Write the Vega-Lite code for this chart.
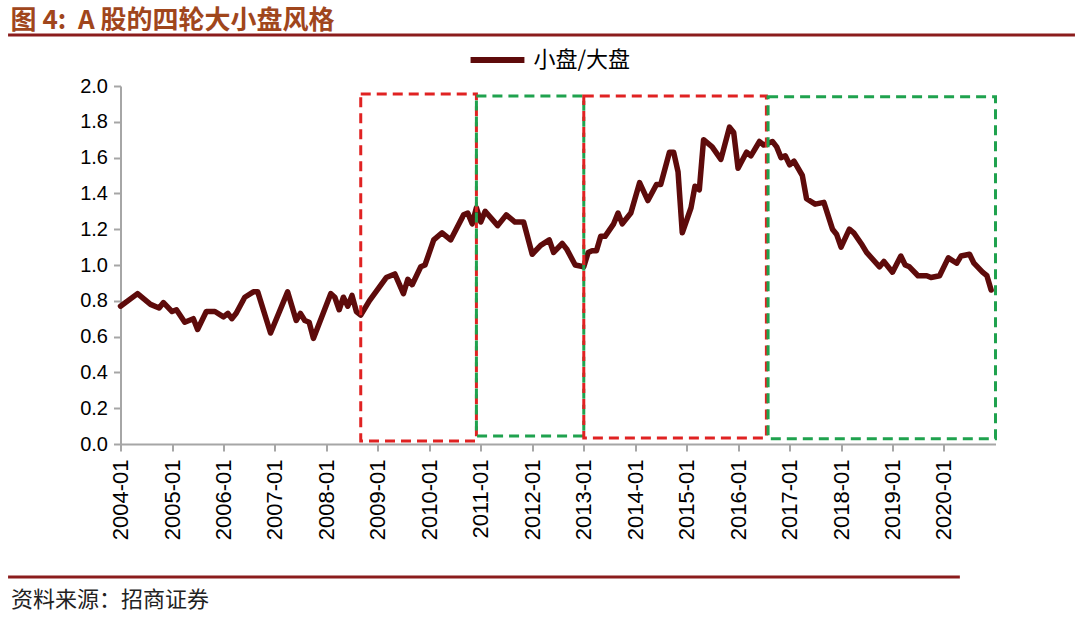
{
  "$schema": "https://vega.github.io/schema/vega-lite/v6.json",
  "width": 875,
  "height": 358,
  "autosize": "none",
  "padding": {"left": 120.5, "top": 86, "right": 84.5, "bottom": 174},
  "background": "white",
  "config": {
    "view": {"stroke": null},
    "font": "Liberation Sans",
    "axis": {
      "grid": false,
      "domainColor": "#A6A6A6",
      "domainWidth": 2,
      "tickColor": "#A6A6A6",
      "tickWidth": 2,
      "tickSize": 7,
      "labelColor": "#000000",
      "labelFont": "Liberation Sans",
      "labelFontSize": 20,
      "labelOverlap": false
    }
  },
  "title": {
    "text": "图 4:\u00a0\u00a0A 股的四轮大小盘风格",
    "anchor": "start",
    "frame": "group",
    "orient": "top",
    "dx": -110,
    "dy": 40,
    "offset": 10,
    "baseline": "bottom",
    "font": "Noto Sans CJK SC",
    "fontSize": 26,
    "fontWeight": "bold",
    "color": "#A0461C"
  },
  "datasets": {
    "series": [
      {"d": "2004-01", "v": 0.77}, {"d": "2004-05", "v": 0.84}, {"d": "2004-08", "v": 0.78}, {"d": "2004-10", "v": 0.76},
      {"d": "2004-11", "v": 0.79}, {"d": "2005-01", "v": 0.74}, {"d": "2005-02", "v": 0.75}, {"d": "2005-04", "v": 0.68},
      {"d": "2005-06", "v": 0.70}, {"d": "2005-07", "v": 0.64}, {"d": "2005-09", "v": 0.74}, {"d": "2005-11", "v": 0.74},
      {"d": "2006-01", "v": 0.71}, {"d": "2006-02", "v": 0.73}, {"d": "2006-03", "v": 0.70}, {"d": "2006-04", "v": 0.73},
      {"d": "2006-06", "v": 0.82}, {"d": "2006-08", "v": 0.85}, {"d": "2006-09", "v": 0.85}, {"d": "2006-12", "v": 0.62},
      {"d": "2007-04", "v": 0.85}, {"d": "2007-06", "v": 0.69}, {"d": "2007-07", "v": 0.73}, {"d": "2007-08", "v": 0.69},
      {"d": "2007-09", "v": 0.68}, {"d": "2007-10", "v": 0.59}, {"d": "2008-02", "v": 0.84}, {"d": "2008-03", "v": 0.82},
      {"d": "2008-04", "v": 0.75}, {"d": "2008-05", "v": 0.82}, {"d": "2008-06", "v": 0.77}, {"d": "2008-07", "v": 0.83},
      {"d": "2008-08", "v": 0.74}, {"d": "2008-09", "v": 0.72}, {"d": "2008-11", "v": 0.80}, {"d": "2009-03", "v": 0.93},
      {"d": "2009-05", "v": 0.95}, {"d": "2009-07", "v": 0.84}, {"d": "2009-08", "v": 0.92}, {"d": "2009-09", "v": 0.89},
      {"d": "2009-11", "v": 0.99}, {"d": "2009-12", "v": 1.00}, {"d": "2010-02", "v": 1.14}, {"d": "2010-04", "v": 1.18},
      {"d": "2010-06", "v": 1.14}, {"d": "2010-09", "v": 1.28}, {"d": "2010-10", "v": 1.29}, {"d": "2010-11", "v": 1.23},
      {"d": "2010-12", "v": 1.32}, {"d": "2011-01", "v": 1.24}, {"d": "2011-02", "v": 1.30}, {"d": "2011-05", "v": 1.22},
      {"d": "2011-07", "v": 1.28}, {"d": "2011-09", "v": 1.24}, {"d": "2011-11", "v": 1.24}, {"d": "2012-01", "v": 1.06},
      {"d": "2012-03", "v": 1.11}, {"d": "2012-05", "v": 1.14}, {"d": "2012-06", "v": 1.07}, {"d": "2012-08", "v": 1.12},
      {"d": "2012-09", "v": 1.09}, {"d": "2012-11", "v": 1.00}, {"d": "2013-01", "v": 0.99}, {"d": "2013-02", "v": 1.07},
      {"d": "2013-03", "v": 1.08}, {"d": "2013-04", "v": 1.08}, {"d": "2013-05", "v": 1.16}, {"d": "2013-06", "v": 1.16},
      {"d": "2013-08", "v": 1.23}, {"d": "2013-09", "v": 1.29}, {"d": "2013-10", "v": 1.23}, {"d": "2013-12", "v": 1.29},
      {"d": "2014-02", "v": 1.46}, {"d": "2014-04", "v": 1.36}, {"d": "2014-06", "v": 1.45}, {"d": "2014-07", "v": 1.45},
      {"d": "2014-09", "v": 1.63}, {"d": "2014-10", "v": 1.63}, {"d": "2014-11", "v": 1.52}, {"d": "2014-12", "v": 1.18},
      {"d": "2015-02", "v": 1.32}, {"d": "2015-03", "v": 1.44}, {"d": "2015-04", "v": 1.42}, {"d": "2015-05", "v": 1.70},
      {"d": "2015-07", "v": 1.66}, {"d": "2015-09", "v": 1.59}, {"d": "2015-11", "v": 1.77}, {"d": "2015-12", "v": 1.74},
      {"d": "2016-01", "v": 1.54}, {"d": "2016-03", "v": 1.63}, {"d": "2016-04", "v": 1.61}, {"d": "2016-06", "v": 1.69},
      {"d": "2016-07", "v": 1.67}, {"d": "2016-09", "v": 1.69}, {"d": "2016-10", "v": 1.66}, {"d": "2016-11", "v": 1.60},
      {"d": "2016-12", "v": 1.61}, {"d": "2017-01", "v": 1.56}, {"d": "2017-02", "v": 1.58}, {"d": "2017-04", "v": 1.50},
      {"d": "2017-05", "v": 1.37}, {"d": "2017-07", "v": 1.34}, {"d": "2017-09", "v": 1.35}, {"d": "2017-11", "v": 1.20},
      {"d": "2017-12", "v": 1.17}, {"d": "2018-01", "v": 1.10}, {"d": "2018-03", "v": 1.20}, {"d": "2018-04", "v": 1.18},
      {"d": "2018-06", "v": 1.11}, {"d": "2018-07", "v": 1.07}, {"d": "2018-10", "v": 0.99}, {"d": "2018-11", "v": 1.02},
      {"d": "2019-01", "v": 0.96}, {"d": "2019-03", "v": 1.05}, {"d": "2019-04", "v": 1.00}, {"d": "2019-05", "v": 0.99},
      {"d": "2019-07", "v": 0.94}, {"d": "2019-09", "v": 0.94}, {"d": "2019-10", "v": 0.93}, {"d": "2019-12", "v": 0.94},
      {"d": "2020-02", "v": 1.04}, {"d": "2020-04", "v": 1.01}, {"d": "2020-05", "v": 1.05}, {"d": "2020-07", "v": 1.06},
      {"d": "2020-08", "v": 1.01}, {"d": "2020-10", "v": 0.96}, {"d": "2020-11", "v": 0.94}, {"d": "2020-12", "v": 0.86}
    ],
    "boxes": [
      {"start": "2008-09-01", "end": "2010-12-01", "low": 0.017, "high": 1.955, "kind": "小盘风格"},
      {"start": "2010-12-01", "end": "2013-01-01", "low": 0.045, "high": 1.944, "kind": "大盘风格"},
      {"start": "2013-01-01", "end": "2016-07-20", "low": 0.034, "high": 1.944, "kind": "小盘风格"},
      {"start": "2016-08-01", "end": "2021-01-01", "low": 0.03, "high": 1.94, "kind": "大盘风格"}
    ]
  },
  "layer": [
    {
      "data": {"name": "series"},
      "mark": {"type": "line", "strokeWidth": 5.5, "strokeJoin": "round", "strokeCap": "round"},
      "encoding": {
        "x": {
          "field": "d",
          "type": "temporal",
          "scale": {
            "type": "utc",
            "domain": [{"year": 2004, "month": 1, "date": 1, "utc": true}, {"year": 2021, "month": 1, "date": 1, "utc": true}]
          },
          "axis": {
            "values": [
              {"year": 2004, "month": 1, "date": 1, "utc": true}, {"year": 2005, "month": 1, "date": 1, "utc": true},
              {"year": 2006, "month": 1, "date": 1, "utc": true}, {"year": 2007, "month": 1, "date": 1, "utc": true},
              {"year": 2008, "month": 1, "date": 1, "utc": true}, {"year": 2009, "month": 1, "date": 1, "utc": true},
              {"year": 2010, "month": 1, "date": 1, "utc": true}, {"year": 2011, "month": 1, "date": 1, "utc": true},
              {"year": 2012, "month": 1, "date": 1, "utc": true}, {"year": 2013, "month": 1, "date": 1, "utc": true},
              {"year": 2014, "month": 1, "date": 1, "utc": true}, {"year": 2015, "month": 1, "date": 1, "utc": true},
              {"year": 2016, "month": 1, "date": 1, "utc": true}, {"year": 2017, "month": 1, "date": 1, "utc": true},
              {"year": 2018, "month": 1, "date": 1, "utc": true}, {"year": 2019, "month": 1, "date": 1, "utc": true},
              {"year": 2020, "month": 1, "date": 1, "utc": true}
            ],
            "format": "%Y-%m",
            "labelAngle": 270,
            "labelAlign": "right",
            "labelBaseline": "middle",
            "labelPadding": 8,
            "labelFontSize": 22,
            "labelFlush": false,
            "title": "资料来源：招商证券",
            "titleX": -110,
            "titleY": 162,
            "titleAnchor": "start",
            "titleAlign": "left",
            "titleBaseline": "alphabetic",
            "titleFont": "Noto Sans CJK SC",
            "titleFontSize": 22,
            "titleFontWeight": "normal",
            "titleColor": "#222222"
          }
        },
        "y": {
          "field": "v",
          "type": "quantitative",
          "scale": {"domain": [0, 2], "nice": false},
          "axis": {
            "values": [0, 0.2, 0.4, 0.6, 0.8, 1, 1.2, 1.4, 1.6, 1.8, 2],
            "format": ".1f",
            "labelPadding": 6,
            "labelOverlap": false,
            "title": null
          }
        },
        "color": {
          "datum": "小盘/大盘",
          "scale": {"range": ["#5E0B0B"]},
          "legend": {
            "orient": "none",
            "legendX": 347,
            "legendY": -56,
            "title": null,
            "symbolType": "stroke",
            "symbolSize": 2900,
            "symbolStrokeWidth": 6,
            "labelFont": "Noto Sans CJK SC",
            "labelFontSize": 22,
            "labelColor": "#000000",
            "labelOffset": 6,
            "padding": 0
          }
        }
      }
    },
    {
      "data": {"values": [{}]},
      "mark": {"type": "rule", "color": "#8B1C1C", "strokeWidth": 3},
      "encoding": {
        "x": {"datum": {"year": 2001, "month": 10, "date": 25, "utc": true}, "type": "temporal"},
        "x2": {"datum": {"year": 2022, "month": 7, "date": 19, "utc": true}},
        "y": {
          "datum": 2.285,
          "type": "quantitative",
          "axis": {"values": [0, 0.2, 0.4, 0.6, 0.8, 1, 1.2, 1.4, 1.6, 1.8, 2], "format": ".1f", "labelPadding": 6, "labelOverlap": false, "title": null}
        }
      }
    },
    {
      "data": {"values": [{}]},
      "mark": {"type": "rule", "color": "#8B1C1C", "strokeWidth": 3},
      "encoding": {
        "x": {"datum": {"year": 2001, "month": 10, "date": 25, "utc": true}, "type": "temporal"},
        "x2": {"datum": {"year": 2020, "month": 4, "date": 23, "utc": true}},
        "y": {
          "datum": -0.743,
          "type": "quantitative",
          "axis": {"values": [0, 0.2, 0.4, 0.6, 0.8, 1, 1.2, 1.4, 1.6, 1.8, 2], "format": ".1f", "labelPadding": 6, "labelOverlap": false, "title": null}
        }
      }
    },
    {
      "data": {"name": "boxes"},
      "mark": {"type": "rect", "fillOpacity": 0, "strokeWidth": 3, "strokeDash": [10, 6]},
      "encoding": {
        "x": {"field": "start", "type": "temporal"},
        "x2": {"field": "end"},
        "y": {
          "field": "low",
          "type": "quantitative",
          "axis": {"values": [0, 0.2, 0.4, 0.6, 0.8, 1, 1.2, 1.4, 1.6, 1.8, 2], "format": ".1f", "labelPadding": 6, "labelOverlap": false, "title": null}
        },
        "y2": {"field": "high"},
        "stroke": {
          "field": "kind",
          "type": "nominal",
          "scale": {"domain": ["小盘风格", "大盘风格"], "range": ["#E02222", "#1FA24E"]},
          "legend": null
        }
      }
    }
  ]
}
